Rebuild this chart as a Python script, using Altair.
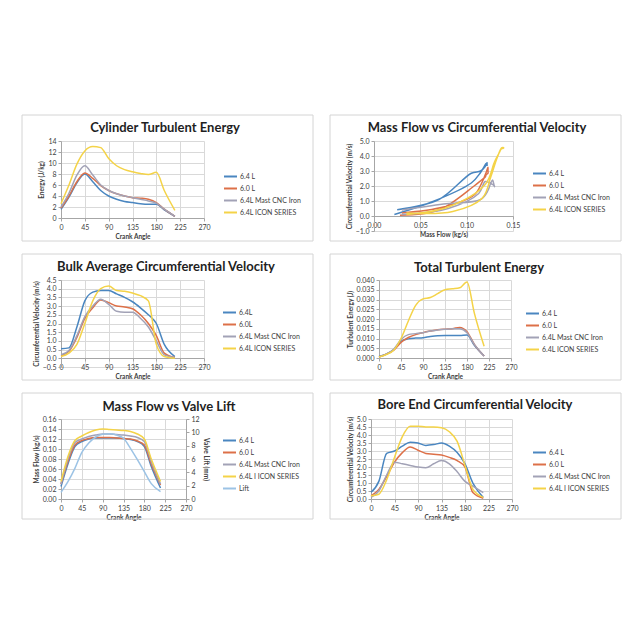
import altair as alt
import pandas as pd

FONT = "Lato"
FRAME = "#D4D4D4"
C_BLUE, C_RED, C_GRAY, C_YEL, C_LIFT = "#4A86C0", "#DD7048", "#A2A2B6", "#F4D348", "#9CC3E5"

angles = [0, 15, 30, 45, 60, 75, 90, 105, 120, 135, 150, 165, 180, 195, 215]
crank_ticks = [0, 45, 90, 135, 180, 225, 270]

# Cylinder Turbulent Energy (J/kg)
cte_64 = [1.6, 3.8, 6.4, 8.0, 6.6, 5.0, 4.0, 3.4, 3.0, 2.8, 2.6, 2.5, 2.5, 1.5, 0.3]
cte_60 = [1.8, 4.0, 6.6, 8.2, 7.2, 5.9, 5.0, 4.4, 4.0, 3.7, 3.6, 3.4, 2.8, 1.6, 0.3]
cte_mast = [2.0, 4.5, 7.8, 9.5, 7.8, 6.0, 5.0, 4.4, 4.0, 3.7, 3.4, 3.1, 2.7, 1.6, 0.3]
cte_icon = [2.6, 6.0, 9.8, 12.2, 13.0, 12.8, 10.8, 9.5, 8.8, 8.4, 8.1, 7.9, 8.3, 5.0, 1.4]

# Bulk Average Circumferential Velocity (m/s)
bulk_64 = [0.55, 0.6, 1.8, 3.3, 3.8, 3.9, 3.9, 3.7, 3.5, 3.25, 2.9, 2.5, 2.0, 0.8, 0.1]
bulk_60 = [0.15, 0.4, 1.2, 2.3, 2.9, 3.35, 3.2, 3.0, 2.95, 2.85, 2.5, 2.0, 1.3, 0.3, 0.05]
bulk_mast = [0.2, 0.45, 1.3, 2.4, 3.0, 3.4, 3.1, 2.7, 2.65, 2.65, 2.3, 1.8, 1.0, 0.2, 0.05]
bulk_icon = [0.1, 0.3, 0.8, 2.0, 3.3, 4.0, 4.15, 3.9, 3.85, 3.75, 3.6, 3.3, 0.8, 0.1, 0.0]

# Total Turbulent Energy (J)
tte_64 = [0.0008, 0.002, 0.0042, 0.0085, 0.0098, 0.0102, 0.0104, 0.011, 0.0114, 0.0115, 0.0115, 0.0115, 0.0118, 0.0065, 0.001]
tte_60 = [0.0005, 0.002, 0.004, 0.008, 0.0105, 0.012, 0.013, 0.0138, 0.0145, 0.0148, 0.015, 0.0157, 0.0135, 0.007, 0.001]
tte_mast = [0.0005, 0.002, 0.0045, 0.0095, 0.012, 0.0125, 0.013, 0.0138, 0.0143, 0.0147, 0.015, 0.015, 0.013, 0.007, 0.001]
tte_icon = [0.0005, 0.0018, 0.004, 0.010, 0.019, 0.027, 0.0303, 0.031, 0.033, 0.035, 0.0355, 0.036, 0.039, 0.023, 0.006]

# Mass Flow (kg/s) and Valve Lift (mm)
mf_64 = [0.025, 0.07, 0.105, 0.115, 0.12, 0.122, 0.122, 0.122, 0.122, 0.121, 0.119, 0.115, 0.105, 0.065, 0.022]
mf_60 = [0.03, 0.075, 0.108, 0.117, 0.121, 0.123, 0.123, 0.123, 0.122, 0.121, 0.12, 0.116, 0.108, 0.07, 0.028]
mf_mast = [0.03, 0.08, 0.113, 0.12, 0.125, 0.128, 0.13, 0.13, 0.129, 0.128, 0.126, 0.123, 0.115, 0.075, 0.03]
mf_icon = [0.035, 0.085, 0.117, 0.126, 0.133, 0.138, 0.14, 0.139, 0.138, 0.137, 0.135, 0.13, 0.12, 0.08, 0.035]
lift = [1.0, 2.6, 4.6, 7.0, 8.4, 9.3, 9.7, 9.8, 9.6, 9.1, 7.6, 5.9, 4.1, 2.3, 1.1]

# Bore End Circumferential Velocity (m/s)
bore_64 = [0.42, 1.1, 2.85, 3.0, 3.3, 3.55, 3.5, 3.35, 3.4, 3.5, 3.3, 2.9, 2.2, 1.0, 0.1]
bore_60 = [0.2, 0.6, 1.4, 2.3, 2.9, 3.25, 3.05, 2.85, 2.8, 2.75, 2.6, 2.4, 2.0, 0.4, 0.05]
bore_mast = [0.1, 0.5, 1.5, 2.3, 2.2, 2.1, 2.0, 1.95, 2.2, 2.4, 2.2, 1.7, 1.1, 0.8, 0.4]
bore_icon = [0.2, 0.3, 1.2, 2.6, 3.9, 4.55, 4.55, 4.5, 4.5, 4.45, 4.2, 3.6, 2.1, 0.6, 0.1]

COLORS4 = [C_BLUE, C_RED, C_GRAY, C_YEL]


def long_df(labels, arrays):
    rows = []
    for lab, arr in zip(labels, arrays):
        for a, v in zip(angles, arr):
            rows.append({"angle": a, "series": lab, "value": v})
    return pd.DataFrame(rows)


def loop_df(labels, xs_list, ys_list):
    rows = []
    for lab, xs, ys in zip(labels, xs_list, ys_list):
        for a, xv, yv in zip(angles, xs, ys):
            rows.append({"angle": a, "series": lab, "mass": xv, "value": yv})
    return pd.DataFrame(rows)


def legend(lx, ly):
    return alt.Legend(orient="none", legendX=lx, legendY=ly, title=None,
                      symbolType="stroke", symbolSize=169, symbolStrokeWidth=2,
                      labelFontSize=7, labelFont=FONT, labelColor="#404040",
                      rowPadding=-2, labelOffset=2, padding=0)


def x_channel(xfield="angle", xdom=(0, 270), xvals=crank_ticks, xfmt="d",
              xtitle="Crank Angle", xoffset=0):
    return alt.X(f"{xfield}:Q", scale=alt.Scale(domain=list(xdom), nice=False, zero=False),
                 axis=alt.Axis(values=xvals, format=xfmt, title=xtitle, grid=True,
                               offset=xoffset, labelOverlap=False, labelFlush=False))


def frame_layer(fx):
    x1, x2, y1, y2 = fx
    return alt.Chart(alt.Data(values=[{}])).mark_rect(
        fill="transparent", stroke=FRAME, strokeWidth=1
    ).encode(x=alt.value(x1), x2=alt.value(x2), y=alt.value(y1), y2=alt.value(y2))


def title_layer(text, tx, ty):
    return alt.Chart(alt.Data(values=[{}])).mark_text(
        font=FONT, fontSize=13, fontWeight="bold", color="#1F1F1F",
        align="center", baseline="middle"
    ).encode(x=alt.value(tx), y=alt.value(ty), text=alt.value(text))


def panel(df, labels, colors, title, tpos, fx, w, h, leg,
          ydom, yvals, yfmt, ytitle,
          xfield="angle", xdom=(0, 270), xvals=crank_ticks, xfmt="d",
          xtitle="Crank Angle", xoffset=0, interp="monotone", ordered=False,
          extra=None):
    enc = dict(
        x=x_channel(xfield, xdom, xvals, xfmt, xtitle, xoffset),
        y=alt.Y("value:Q", scale=alt.Scale(domain=list(ydom), nice=False, zero=False),
                axis=alt.Axis(values=yvals, format=yfmt, title=ytitle, grid=True,
                              labelOverlap=False, labelFlush=False)),
        color=alt.Color("series:N", scale=alt.Scale(domain=labels, range=colors),
                        legend=legend(*leg)),
    )
    if ordered:
        enc["order"] = alt.Order("angle:Q")
    lines = alt.Chart(df).mark_line(strokeWidth=1.5, interpolate=interp).encode(**enc)
    layers = [frame_layer(fx), title_layer(title, *tpos), lines]
    if extra is not None:
        layers.append(extra)
    ch = alt.layer(*layers).properties(width=w, height=h)
    if extra is not None:
        ch = ch.resolve_scale(y="independent")
    return ch


# Panel 1
lab1 = ["6.4 L", "6.0 L", "6.4L Mast CNC Iron", "6.4L ICON SERIES"]
p1 = panel(long_df(lab1, [cte_64, cte_60, cte_mast, cte_icon]), lab1, COLORS4,
           "Cylinder Turbulent Energy", (104, -13), (-39, 252, -26, 100), 143, 77, (162, 28),
           (0, 14), [0, 2, 4, 6, 8, 10, 12, 14], "d", "Energy (J/kg)")

# Panel 2
lab2 = ["6.4 L", "6.0 L", "6.4L Mast CNC Iron", "6.4L  ICON SERIES"]
p2 = panel(loop_df(lab2, [mf_64, mf_60, mf_mast, mf_icon], [bore_64, bore_60, bore_mast, bore_icon]),
           lab2, COLORS4,
           "Mass Flow vs Circumferential Velocity", (103, -13), (-44, 247, -26, 100), 139, 90, (158, 25),
           (-1, 5), [-1, 0, 1, 2, 3, 4, 5], ".1f", "Circumferential Velocity (m/s)",
           xfield="mass", xdom=(0, 0.15), xvals=[0, 0.05, 0.1, 0.15], xfmt=".2f",
           xtitle="Mass Flow (kg/s)", xoffset=-15, interp="catmull-rom", ordered=True)

# Panel 3
lab3 = ["6.4L", "6.0L", "6.4L Mast CNC Iron", "6.4L ICON SERIES"]
p3 = panel(long_df(lab3, [bulk_64, bulk_60, bulk_mast, bulk_icon]), lab3, COLORS4,
           "Bulk Average Circumferential Velocity", (105, -13), (-39, 252, -26, 100), 143, 87, (161, 25),
           (-0.5, 4.5), [-0.5, 0, 0.5, 1, 1.5, 2, 2.5, 3, 3.5, 4, 4.5], ".1f",
           "Circumferential Velocity (m/s)", xoffset=-9)

# Panel 4
lab4 = ["6.4 L", "6.0 L", "6.4L Mast CNC Iron", "6.4L  ICON SERIES"]
p4 = panel(long_df(lab4, [tte_64, tte_60, tte_mast, tte_icon]), lab4, COLORS4,
           "Total Turbulent Energy", (100, -12), (-49, 242, -26, 100), 132, 78, (146, 26),
           (0, 0.04), [0, 0.005, 0.01, 0.015, 0.02, 0.025, 0.03, 0.035, 0.04], ".3f",
           "Turbulent Energy (J)")

# Panel 5
lab5 = ["6.4 L", "6.0 L", "6.4L Mast CNC Iron", "6.4L I ICON SERIES", "Lift"]
lift_df = pd.DataFrame({"angle": angles, "series": "Lift", "lift": lift})
lift_layer = alt.Chart(lift_df).mark_line(strokeWidth=1.5, interpolate="monotone").encode(
    x=x_channel(),
    y=alt.Y("lift:Q", scale=alt.Scale(domain=[0, 12], nice=False),
            axis=alt.Axis(orient="right", values=[0, 2, 4, 6, 8, 10, 12], format="d",
                          title="Valve Lift (mm)", grid=False,
                          labelOverlap=False, labelFlush=False)),
    color=alt.Color("series:N", scale=alt.Scale(domain=lab5, range=COLORS4 + [C_LIFT]),
                    legend=legend(161, 14)),
)
p5 = panel(long_df(lab5[:4], [mf_64, mf_60, mf_mast, mf_icon]), lab5, COLORS4 + [C_LIFT],
           "Mass Flow vs Valve Lift", (108, -12), (-39, 252, -26, 100), 125, 80, (161, 14),
           (0, 0.16), [0, 0.02, 0.04, 0.06, 0.08, 0.1, 0.12, 0.14, 0.16], ".2f",
           "Mass Flow (kg/s)", extra=lift_layer)

# Panel 6
lab6 = ["6.4 L", "6.0 L", "6.4L Mast CNC Iron", "6.4L I ICON SERIES"]
p6 = panel(long_df(lab6, [bore_64, bore_60, bore_mast, bore_icon]), lab6, COLORS4,
           "Bore End Circumferential Velocity", (104, -14), (-41, 250, -26, 100), 141, 80, (161, 26),
           (0, 5), [0, 0.5, 1, 1.5, 2, 2.5, 3, 3.5, 4, 4.5, 5], ".1f",
           "Circumferential Velocity (m/s)")

row1 = alt.hconcat(p1, p2, spacing=15).resolve_scale(color="independent")
row2 = alt.hconcat(p3, p4, spacing=15).resolve_scale(color="independent")
row3 = alt.hconcat(p5, p6, spacing=15).resolve_scale(color="independent")

chart = alt.vconcat(row1, row2, row3, spacing=11).resolve_scale(color="independent").properties(
    padding={"left": 13, "top": 106, "right": 5, "bottom": 5}
).configure_view(strokeWidth=0).configure_axis(
    labelFont=FONT, labelFontSize=7, labelColor="#404040",
    titleFont=FONT, titleFontSize=6.5, titleFontWeight="bold", titleColor="#404040",
    gridColor="#D9D9D9", gridWidth=1, domainColor="#A6A6A6", tickColor="#A6A6A6",
    tickSize=3, labelPadding=2, titlePadding=3
)

chart.save("out.html", embed_options={"renderer": "svg", "actions": False})
